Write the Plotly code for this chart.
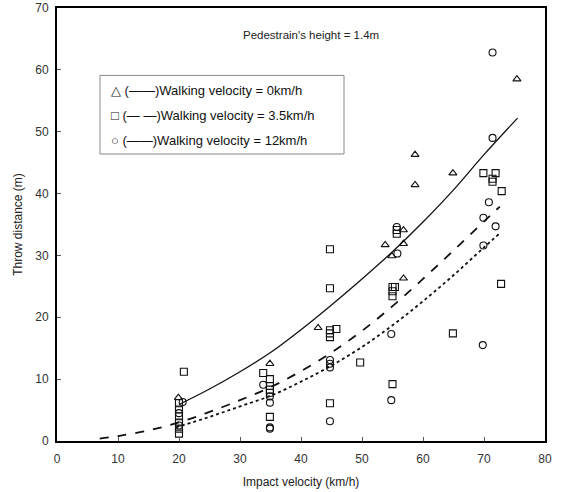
import plotly.graph_objects as go

# ---- scatter data (impact velocity km/h, throw distance m) ----
tri_x = [19.9, 34.9, 42.8, 53.8, 54.9, 56.8, 56.8, 56.8, 58.7, 58.7, 64.9, 75.4]
tri_y = [7.0, 12.5, 18.3, 31.7, 29.9, 34.1, 31.9, 26.3, 46.3, 41.4, 43.3, 58.5]

sq_x = [20.8, 20.0, 20.0, 20.0, 20.0, 20.0, 20.0,
        33.8, 34.9, 34.9, 34.9, 34.9, 34.9,
        44.75, 44.75, 45.8, 44.75, 44.75, 44.75, 49.7, 44.75,
        55.0, 55.4, 55.0, 55.0, 55.7, 55.7, 55.0,
        64.9, 69.9, 71.9, 71.4, 71.4, 72.9, 72.8]
sq_y = [11.2, 6.1, 5.1, 4.0, 3.0, 2.0, 1.2,
        11.0, 10.0, 8.9, 8.3, 7.8, 3.9,
        31.0, 24.7, 18.1, 17.9, 17.4, 16.8, 12.7, 6.1,
        24.9, 24.9, 24.2, 23.4, 34.1, 33.5, 9.2,
        17.4, 43.3, 43.3, 42.4, 41.9, 40.4, 25.4]

ci_x = [20.6, 20.0, 20.0, 33.8, 34.9, 34.9, 34.9, 34.9,
        44.75, 44.75, 44.75, 44.75,
        54.8, 54.8, 55.8, 55.7,
        71.4, 71.4, 70.8, 69.9, 71.9, 69.9, 69.8]
ci_y = [6.3, 4.5, 2.5, 9.1, 7.2, 6.2, 2.2, 2.0,
        13.1, 12.5, 11.9, 3.2,
        17.3, 6.6, 30.3, 34.6,
        62.8, 49.0, 38.6, 36.1, 34.7, 31.6, 15.5]

# ---- fitted curves ----
fit0_x = [20, 25, 30, 35, 40, 45, 50, 55, 60, 65, 70, 75.5]
fit0_y = [5.9, 8.4, 11.2, 14.3, 18.0, 22.0, 26.2, 30.6, 35.4, 40.6, 46.3, 52.2]

fit35_x = [7, 10, 15, 20, 25, 30, 35, 40, 45, 50, 55, 60, 65, 70, 72.6]
fit35_y = [0.4, 0.8, 1.7, 3.0, 4.7, 6.6, 8.7, 11.3, 14.3, 17.8, 21.8, 26.2, 30.8, 35.5, 37.9]

fit12_x = [19.5, 25, 30, 35, 40, 45, 50, 55, 60, 65, 70, 72.6]
fit12_y = [2.2, 3.9, 5.6, 7.3, 9.6, 12.2, 15.2, 18.7, 22.6, 26.8, 31.3, 33.6]

x_ticks = [0, 10, 20, 30, 40, 50, 60, 70, 80]
y_ticks = [0, 10, 20, 30, 40, 50, 60, 70]

legend_lines = ["△ (——)Walking velocity = 0km/h",
                "□ (— —)Walking velocity = 3.5km/h",
                "○ (——)Walking velocity = 12km/h"]
note_text = "Pedestrain's height = 1.4m"

FONT = "Liberation Sans, Arial, sans-serif"
INK = "#111"

fig = go.Figure()
fig.add_trace(go.Scatter(x=fit0_x, y=fit0_y, mode="lines",
                         line=dict(color=INK, width=1.3, shape="spline")))
fig.add_trace(go.Scatter(x=fit35_x, y=fit35_y, mode="lines",
                         line=dict(color=INK, width=1.8, dash="dash", shape="spline")))
fig.add_trace(go.Scatter(x=fit12_x, y=fit12_y, mode="lines",
                         line=dict(color=INK, width=1.8, dash="dot", shape="spline")))
for xs, ys, sym in [(tri_x, tri_y, "triangle-up-open"),
                    (sq_x, sq_y, "square-open"),
                    (ci_x, ci_y, "circle-open")]:
    fig.add_trace(go.Scatter(x=xs, y=ys, mode="markers",
                             marker=dict(symbol=sym, size=7, color=INK, line=dict(width=1.1))))

# legend box
fig.add_shape(type="rect", xref="x", yref="y", x0=7.05, x1=47.05, y0=46.4, y1=59.1,
              line=dict(color="#888", width=1), fillcolor="white", layer="below")
for t, yy in zip(legend_lines, [56.7, 52.6, 48.5]):
    fig.add_annotation(x=8.6, y=yy, xref="x", yref="y", text=t, showarrow=False,
                       xanchor="left", yanchor="middle",
                       font=dict(family=FONT, size=13, color=INK))
fig.add_annotation(x=41.6, y=65.6, xref="x", yref="y", text=note_text, showarrow=False,
                   font=dict(family=FONT, size=11.5, color="#222"))

axis_common = dict(showgrid=False, zeroline=False, showline=True, linecolor="black",
                   linewidth=2, mirror=True, ticks="inside", ticklen=4, tickcolor="#555",
                   automargin=False,
                   tickfont=dict(family=FONT, size=12, color="#333"))
fig.update_xaxes(range=[0, 80], tickvals=x_ticks, ticklabelstandoff=6,
                 title=dict(text="Impact velocity (km/h)", standoff=12,
                            font=dict(family=FONT, size=12, color="#222")), **axis_common)
fig.update_yaxes(range=[0, 70], tickvals=y_ticks, ticklabelstandoff=4,
                 title=dict(text="Throw distance (m)", standoff=10,
                            font=dict(family=FONT, size=12, color="#222")), **axis_common)
fig.update_layout(width=561, height=492, margin=dict(l=57, r=16, t=8, b=51),
                  plot_bgcolor="white", paper_bgcolor="white", showlegend=False)
# remove the default 8px page margin so the figure sits at the window origin
fig.write_html("out.html", config={"displayModeBar": False},
               post_script="document.body.style.margin='0';document.body.style.overflow='hidden';")
